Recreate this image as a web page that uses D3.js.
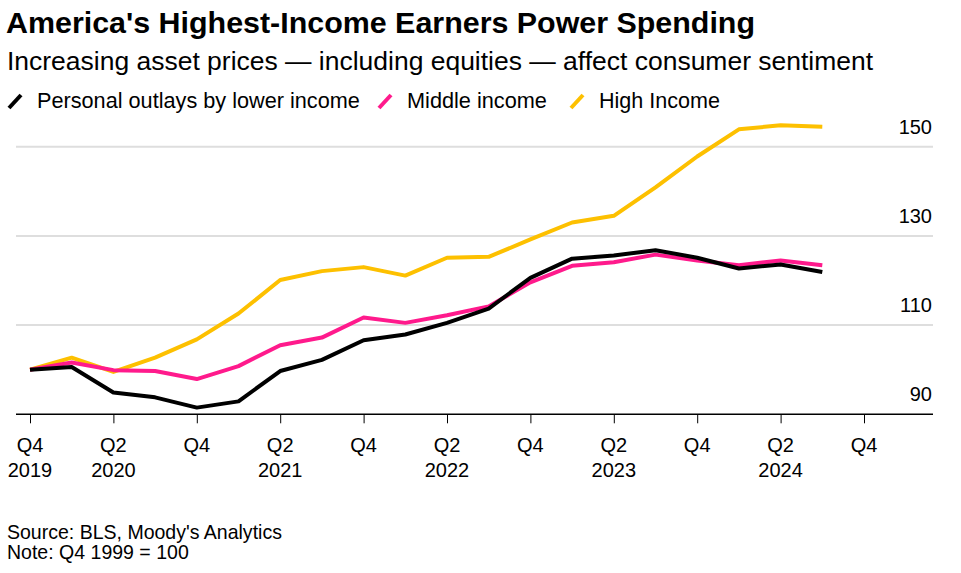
<!DOCTYPE html>
<html><head><meta charset="utf-8">
<script src="https://cdn.jsdelivr.net/npm/d3@7"></script>
<style>
html,body{margin:0;padding:0;background:#fff;}
svg{display:block;font-family:"Liberation Sans",Arial,Helvetica,sans-serif;}
</style></head>
<body>
<svg id="chart" width="961" height="573"></svg>
<script>
// ---- data ----
const quarters = ["Q4 2019","Q1 2020","Q2 2020","Q3 2020","Q4 2020","Q1 2021","Q2 2021","Q3 2021","Q4 2021","Q1 2022","Q2 2022","Q3 2022","Q4 2022","Q1 2023","Q2 2023","Q3 2023","Q4 2023","Q1 2024","Q2 2024","Q3 2024"];
const lowerIncome  = [100,100.6,94.9,93.8,91.5,92.9,99.7,102.2,106.6,107.9,110.5,113.7,120.6,124.9,125.6,126.8,125.1,122.7,123.6,121.9];
const middleIncome = [100,101.6,99.9,99.7,97.9,100.8,105.5,107.2,111.7,110.5,112.2,114.2,119.6,123.3,124.1,125.8,124.5,123.4,124.5,123.4];
const highIncome   = [100,102.7,99.5,102.7,106.8,112.6,120.1,122.1,123.0,121.1,125.1,125.3,129.2,133.0,134.5,140.9,147.8,153.9,154.8,154.5];
const tickQuarters = ["Q4","Q2","Q4","Q2","Q4","Q2","Q4","Q2","Q4","Q2","Q4"];
const tickYears    = ["2019","2020","","2021","","2022","","2023","","2024",""];
const yTicks = [90,110,130,150];
const seriesNames = ["Personal outlays by lower income","Middle income","High Income"];
const seriesColors = ["#000000","#ff1a8c","#fdc000"];

const svg = d3.select("#chart");
const x = d3.scaleLinear().domain([0,20]).range([30,864]);
const y = d3.scaleLinear().domain([90,150]).range([414.3,146.7]);

function fit(sel, target){
  const w = sel.node().getComputedTextLength();
  const fs = parseFloat(sel.attr("font-size"));
  const nfs = fs*target/w;
  sel.attr("font-size", nfs.toFixed(2));
  return nfs;
}

// title
fit(svg.append("text").attr("x",6).attr("y",33).attr("font-size",28).attr("font-weight","bold")
  .attr("fill","#000").text("America's Highest-Income Earners Power Spending"), 749);
fit(svg.append("text").attr("x",7).attr("y",70).attr("font-size",23).attr("fill","#000")
  .text("Increasing asset prices \u2014 including equities \u2014 affect consumer sentiment"), 866);

// legend
const legendX = [8, 378, 570];
const legendTextW = [323, 140, 121];
seriesNames.forEach((n,i)=>{
  svg.append("line").attr("x1",legendX[i]+1).attr("y1",108).attr("x2",legendX[i]+13).attr("y2",95)
    .attr("stroke",seriesColors[i]).attr("stroke-width",4);
  fit(svg.append("text").attr("x",legendX[i]+29).attr("y",108).attr("font-size",20).attr("fill","#000").text(n), legendTextW[i]);
});

// grid
const grid = svg.append("g");
yTicks.filter(v=>v>90).forEach(v=>{
  grid.append("line").attr("x1",16).attr("x2",933).attr("y1",y(v)).attr("y2",y(v))
    .attr("stroke","#dedede").attr("stroke-width",2);
});
yTicks.forEach(v=>{
  svg.append("text").attr("x",932).attr("y",y(v)-13).attr("text-anchor","end")
    .attr("font-size",20).attr("fill","#000").text(v);
});

// x axis
const xAxis = d3.axisBottom(x).tickValues(d3.range(0,21,2)).tickSize(9).tickFormat("");
const gx = svg.append("g").attr("transform",`translate(0,${y(90)})`).call(xAxis);
gx.select(".domain").remove();
gx.selectAll(".tick line").attr("stroke","#000").attr("stroke-width",1);
svg.append("line").attr("x1",16).attr("x2",933).attr("y1",y(90)).attr("y2",y(90))
  .attr("stroke","#000").attr("stroke-width",1.5);
tickQuarters.forEach((q,i)=>{
  const xi = x(i*2);
  svg.append("text").attr("x",xi).attr("y",452).attr("text-anchor","middle").attr("font-size",20).text(q);
  if(tickYears[i]) svg.append("text").attr("x",xi).attr("y",477).attr("text-anchor","middle").attr("font-size",20).text(tickYears[i]);
});

// lines
const line = d3.line().x((d,i)=>x(i)).y(d=>y(d));
[highIncome, middleIncome, lowerIncome].forEach((s,k)=>{
  const c = [seriesColors[2], seriesColors[1], seriesColors[0]][k];
  svg.append("path").datum(s).attr("d",line).attr("fill","none").attr("stroke",c)
    .attr("stroke-width",4).attr("stroke-linejoin","round");
});

// footer
const fsSrc = fit(svg.append("text").attr("x",7).attr("y",539).attr("font-size",19).text("Source: BLS, Moody's Analytics"), 275);
svg.append("text").attr("x",7).attr("y",559).attr("font-size",fsSrc.toFixed(2)).text("Note: Q4 1999 = 100");
</script>
</body></html>
